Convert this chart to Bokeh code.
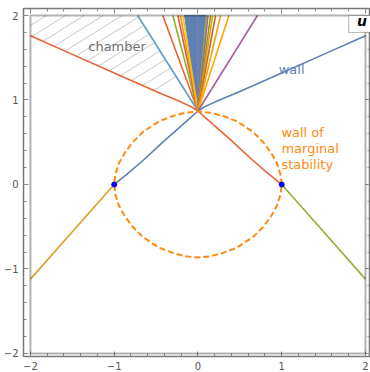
import numpy as np
from bokeh.plotting import figure
from bokeh.models import Range1d, LinearAxis, FixedTicker, Label, BoxAnnotation
from bokeh.embed import file_html
from bokeh.resources import INLINE

# ---------------- data ----------------
tick_vals = [-2, -1, 0, 1, 2]
tick_labels = ["\u22122", "\u22121", "0", "1", "2"]

# wall from u=+1 going up-left (red) and its continuation down-right (green)
red_x = [-2.0, -1.5, -1.0, -0.5, -0.2, -0.08, 0.0, 0.135, 0.4, 0.65, 0.85, 1.0]
red_y = [1.76, 1.54, 1.32, 1.10, 0.975, 0.92, 0.87, 0.75, 0.52, 0.29, 0.12, 0.0]
green_x = [1.0, 1.5, 2.0]
green_y = [0.0, -0.56, -1.12]

# wall from u=-1 going up-right (blue) and its continuation down-left (orange)
blue_x = [-1.0, -0.85, -0.65, -0.4, -0.135, 0.0, 0.08, 0.2, 0.5, 1.0, 1.5, 2.0]
blue_y = [0.0, 0.12, 0.29, 0.52, 0.75, 0.87, 0.92, 0.975, 1.10, 1.32, 1.54, 1.76]
orange_x = [-2.0, -1.5, -1.0]
orange_y = [-1.12, -0.56, 0.0]

# curve of marginal stability
ms_x = [1.0, 0.985, 0.944, 0.87, 0.78, 0.66, 0.46, 0.3, 0.15, 0.0,
        -0.15, -0.3, -0.46, -0.66, -0.78, -0.87, -0.944, -0.985, -1.0,
        -0.985, -0.944, -0.87, -0.78, -0.66, -0.46, -0.3, -0.15, 0.0,
        0.15, 0.3, 0.46, 0.66, 0.78, 0.87, 0.944, 0.985, 1.0]
ms_y = [0.0, 0.12, 0.25, 0.38, 0.5, 0.62, 0.75, 0.81, 0.85, 0.865,
        0.85, 0.81, 0.75, 0.62, 0.5, 0.38, 0.25, 0.12, 0.0,
        -0.12, -0.25, -0.38, -0.5, -0.62, -0.75, -0.81, -0.85, -0.865,
        -0.85, -0.81, -0.75, -0.62, -0.5, -0.38, -0.25, -0.12, 0.0]

# singular points
sing_x = [-1.0, 1.0]
sing_y = [0.0, 0.0]

# fan of walls from the crossing point, given by where they reach the top edge
apex_x, apex_y = 0.0, 0.87
fan_top_y = 2.0
fan_top_x = [-0.72, -0.42, -0.30, -0.24, -0.21, -0.18, 0.0,
             0.10, 0.12, 0.15, 0.175, 0.21, 0.27, 0.37, 0.71]
fan_colors = ["#5D9EC7", "#EB6235", "#8FB032", "#E95536", "#E09C24", "#FFBF00", "#8778B3",
              "#8FB032", "#A5609D", "#929600", "#E09C24", "#C56E1A", "#F89F13", "#FFA500", "#A5609D"]
wedge_top_x = [-0.16, 0.10]

# ---------------- figure ----------------
p = figure(width=370, height=372,
           x_range=Range1d(-2.083, 2.06), y_range=Range1d(-2.036, 2.083),
           output_backend="svg", toolbar_location=None,
           x_axis_location=None, y_axis_location=None,
           min_border_left=22, min_border_right=0, min_border_top=8, min_border_bottom=15)
p.xgrid.visible = False
p.ygrid.visible = False
p.outline_line_color = "#777777"
p.outline_line_width = 1.5
p.background_fill_color = "white"
p.border_fill_color = "white"

minor = list(np.round(np.arange(-2.0, 2.001, 0.2), 3))


def make_axis(show_labels):
    ax = LinearAxis(ticker=FixedTicker(ticks=tick_vals, minor_ticks=minor))
    ax.axis_line_color = None
    ax.major_tick_in = 5
    ax.major_tick_out = 0
    ax.minor_tick_in = 3
    ax.minor_tick_out = 0
    ax.major_tick_line_color = "#888888"
    ax.minor_tick_line_color = "#888888"
    if show_labels:
        ax.major_label_overrides = {v: s for v, s in zip(tick_vals, tick_labels)}
        ax.major_label_text_font = "DejaVu Sans"
        ax.major_label_text_font_size = "10px"
        ax.major_label_text_color = "#555555"
        ax.major_label_standoff = 5
    else:
        ax.major_label_text_font_size = "0px"
        ax.major_label_text_color = None
        ax.major_label_standoff = 0
    return ax


p.add_layout(make_axis(True), "below")
p.add_layout(make_axis(True), "left")
p.add_layout(make_axis(False), "above")
p.add_layout(make_axis(False), "right")

# ---------------- hatch of the chamber ----------------
hatch_slope = 0.62
hatch_step = 0.226
hatch_first = -1.81
xs_fine = np.linspace(-2.0, 0.0, 4001)
red_fine = np.interp(xs_fine, red_x, red_y)
lb_top = fan_top_x[0]
hx, hy = [], []
for x0 in np.arange(hatch_first, 1.0, hatch_step):
    yl = fan_top_y + hatch_slope * (xs_fine - x0)
    lb = apex_x + (yl - apex_y) * (lb_top - apex_x) / (fan_top_y - apex_y)
    mask = (yl <= fan_top_y) & (yl >= red_fine) & (xs_fine <= lb)
    if mask.any():
        xsel = xs_fine[mask]
        hx.append([xsel[0], xsel[-1]])
        hy.append([fan_top_y + hatch_slope * (xsel[0] - x0), fan_top_y + hatch_slope * (xsel[-1] - x0)])
p.multi_line(hx, hy, line_color="#c8c8c8", line_width=1)

# ---------------- fan ----------------
p.patch([apex_x, wedge_top_x[0], wedge_top_x[1]], [apex_y, fan_top_y, fan_top_y],
        fill_color="#5E81B5", line_color="#5E81B5", line_width=1)
p.multi_line([[apex_x, tx] for tx in fan_top_x], [[apex_y, fan_top_y] for _ in fan_top_x],
             line_color=fan_colors, line_width=1.6)

# ---------------- walls ----------------
p.line(red_x, red_y, line_color="#EB6235", line_width=1.6)
p.line(green_x, green_y, line_color="#8FB032", line_width=1.6)
p.line(blue_x, blue_y, line_color="#5E81B5", line_width=1.6)
p.line(orange_x, orange_y, line_color="#E09C24", line_width=1.6)

# marginal stability
p.line(ms_x, ms_y, line_color="#FF8A12", line_width=2, line_dash="6 3")

p.scatter(sing_x, sing_y, size=5, marker="circle", fill_color="#0000FF", line_color="#0000FF")

# black plot-range rectangle
p.add_layout(BoxAnnotation(left=-2, right=2, bottom=-2, top=2, fill_color=None,
                           line_color="black", line_width=2))

# ---------------- texts ----------------
FONT = "DejaVu Sans"
p.add_layout(Label(x=-1.31, y=1.633, text="chamber", text_font=FONT, text_font_size="13px",
                   text_color="#707070", text_baseline="alphabetic"))
p.add_layout(Label(x=0.964, y=1.363, text="wall", text_font=FONT, text_font_size="13px",
                   text_color="#5E81B5", text_baseline="alphabetic"))
for txt, yy in [("wall of", 0.612), ("marginal", 0.422), ("stability", 0.232)]:
    p.add_layout(Label(x=0.996, y=yy, text=txt, text_font=FONT, text_font_size="13px",
                       text_color="#FF8A12", text_baseline="alphabetic"))

p.add_layout(BoxAnnotation(left=1.80, right=2.2, bottom=1.80, top=2.0, fill_color="white",
                           fill_alpha=1.0, line_color="black", line_width=1))
p.add_layout(Label(x=1.90, y=1.94, text="u", text_font=FONT, text_font_size="14px",
                   text_font_style="bold italic", text_color="black", text_baseline="alphabetic"))

open("out.html", "w").write(file_html(p, INLINE))
